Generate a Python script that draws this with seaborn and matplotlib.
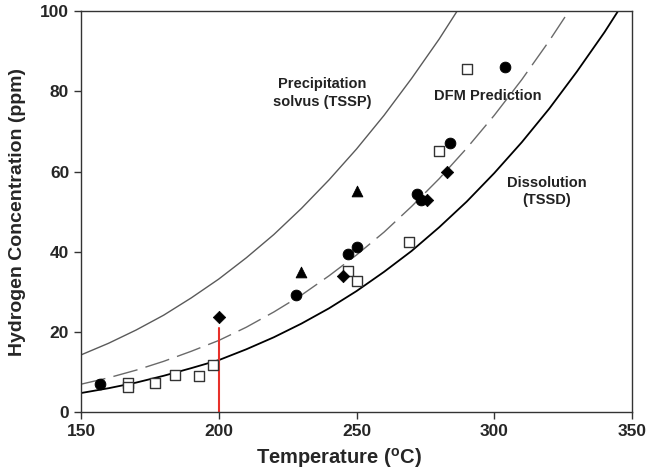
import numpy as np
import pandas as pd
import matplotlib
matplotlib.use("Agg")
import matplotlib.pyplot as plt
import seaborn as sns

# curve values (ppm at each temperature, deg C)
tssp_temp = [150, 160, 170, 180, 190, 200, 210, 220, 230, 240, 250, 260, 270, 280, 290]
tssp_ppm = [14.3, 17.2, 20.5, 24.2, 28.5, 33.2, 38.5, 44.3, 50.8, 57.9, 65.6, 74.0, 83.2, 93.0, 103.7]

dfm_temp = [150, 160, 170, 180, 190, 200, 210, 220, 230, 240, 250, 260, 270, 280, 290, 300, 310, 320, 330]
dfm_ppm = [7.0, 8.6, 10.5, 12.7, 15.2, 17.9, 21.2, 25.0, 29.2, 34.0, 39.2, 44.9, 51.3, 58.2, 65.8,
           74.0, 82.9, 92.6, 103.0]

tssd_temp = [150, 160, 170, 180, 190, 200, 210, 220, 230, 240, 250, 260, 270, 280, 290, 300,
             310, 320, 330, 340, 350]
tssd_ppm = [4.8, 6.0, 7.4, 9.1, 11.0, 13.0, 15.7, 18.7, 22.1, 25.9, 30.2, 35.0, 40.2, 46.1, 52.5,
            59.6, 67.3, 75.7, 84.9, 94.7, 105.4]

# measured points
circle_temp = [157, 228, 247, 250, 272, 273.5, 284, 304]
circle_ppm = [7.0, 29.2, 39.5, 41.3, 54.3, 53.0, 67.0, 86.1]

square_temp = [167, 167, 177, 184, 193, 198, 247, 250, 269, 280, 290]
square_ppm = [7.2, 6.2, 7.4, 9.4, 9.1, 11.8, 35.2, 32.6, 42.4, 65.2, 85.5]

triangle_temp = [230, 250]
triangle_ppm = [35.0, 55.1]

diamond_temp = [200, 245, 275.5, 283]
diamond_ppm = [23.8, 33.9, 53.0, 59.8]

red_temp = [200, 200]
red_ppm = [0, 21.1]

sns.set_style("ticks")
plt.rcParams['font.family'] = ['Liberation Sans', 'DejaVu Sans']
plt.rcParams['font.weight'] = 'bold'

fig = plt.figure(figsize=(6.51, 4.75), dpi=100)
ax = fig.add_axes([81 / 651, 1 - 412.3 / 475, 551 / 651, 401.3 / 475])

sns.lineplot(x=tssp_temp, y=tssp_ppm, ax=ax, color="#5a5a5a", linewidth=1.0)
sns.lineplot(x=dfm_temp, y=dfm_ppm, ax=ax, color="#6a6a6a", linewidth=1.0,
             linestyle=(0, (18, 6)))
sns.lineplot(x=tssd_temp, y=tssd_ppm, ax=ax, color="black", linewidth=1.3)
# vertical marker at 200 C; estimator=None so the two points are not averaged
sns.lineplot(x=red_temp, y=red_ppm, ax=ax, color="#e8302a", linewidth=1.5,
             estimator=None, sort=False)

sns.scatterplot(x=square_temp, y=square_ppm, ax=ax, marker="s", s=42,
                facecolor="white", edgecolor="#333333", linewidth=1.0, zorder=3)
sns.scatterplot(x=circle_temp, y=circle_ppm, ax=ax, marker="o", s=60,
                color="black", edgecolor="black", zorder=4)
sns.scatterplot(x=triangle_temp, y=triangle_ppm, ax=ax, marker="^", s=60,
                color="black", edgecolor="black", zorder=4)
sns.scatterplot(x=diamond_temp, y=diamond_ppm, ax=ax, marker="D", s=40,
                color="black", edgecolor="black", zorder=4)

ax.set_xlim(150, 350)
ax.set_ylim(0, 100)
ax.set_xticks([150, 200, 250, 300, 350])
ax.set_yticks([0, 20, 40, 60, 80, 100])
ax.tick_params(labelsize=12.5, length=5, width=1, color="#333333", direction="out")
for lab in ax.get_xticklabels() + ax.get_yticklabels():
    lab.set_fontweight("bold")
for sp in ax.spines.values():
    sp.set_color("#333333")
    sp.set_linewidth(1.0)

ax.set_xlabel("Temperature ($^{\\mathregular{o}}$C)", fontsize=14.5, fontweight="bold")
ax.xaxis.set_label_coords((338.5 - 81) / 551, -0.085)
ax.set_ylabel("Hydrogen Concentration (ppm)", fontsize=14, fontweight="bold")
ax.yaxis.set_label_coords(-0.10, 0.5)

ax.text(237.5, 79.6, "Precipitation\nsolvus (TSSP)", ha="center", va="center",
        fontsize=10.5, fontweight="bold", color="#222222", linespacing=1.3)
ax.text(297.6, 78.9, "DFM Prediction", ha="center", va="center",
        fontsize=10.5, fontweight="bold", color="#222222")
ax.text(319, 55.0, "Dissolution\n(TSSD)", ha="center", va="center",
        fontsize=10.5, fontweight="bold", color="#222222", linespacing=1.3)

fig.savefig("out.png", dpi=100)
